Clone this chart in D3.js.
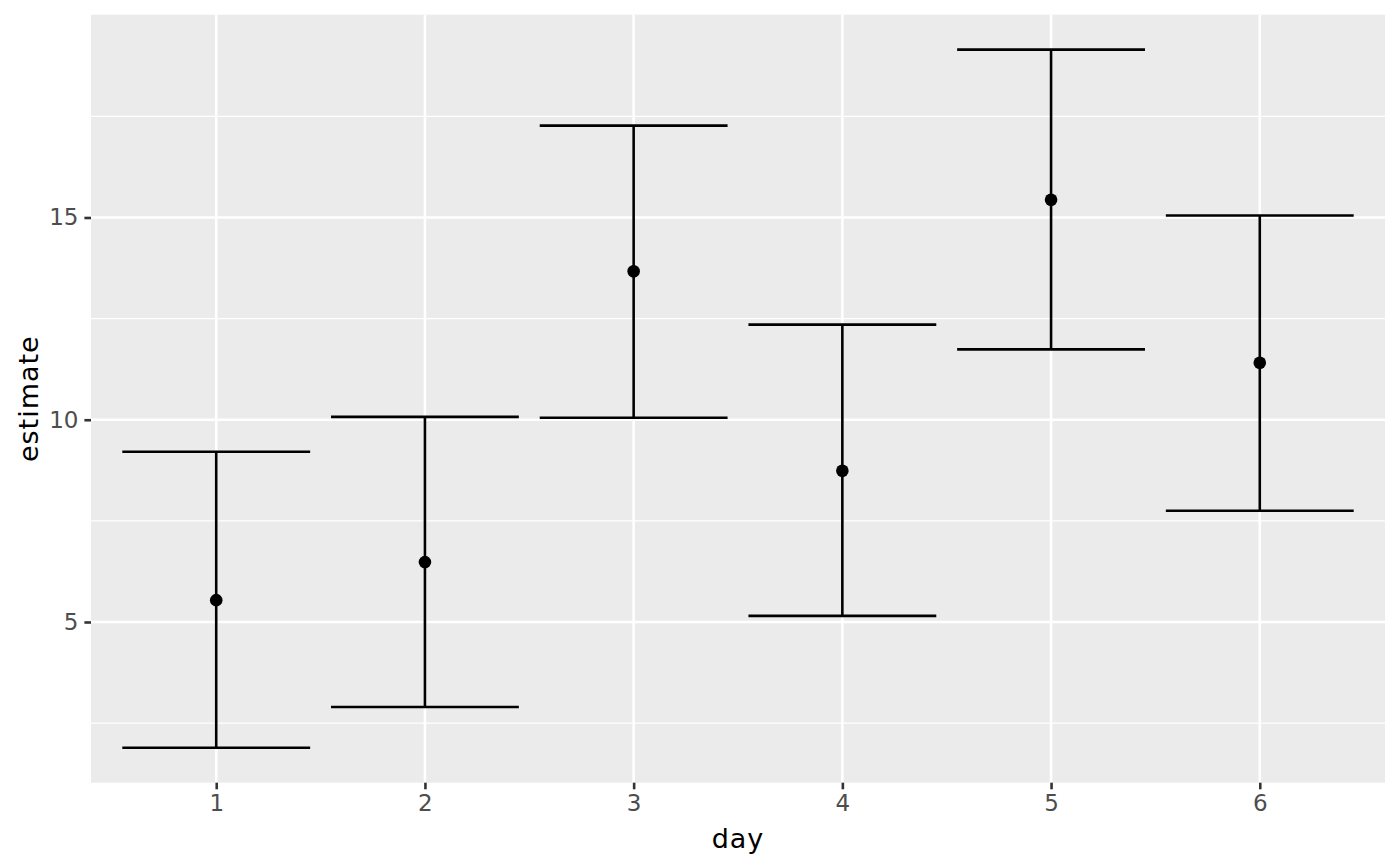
<!DOCTYPE html>
<html>
<head>
<meta charset="utf-8">
<script src="https://cdn.jsdelivr.net/npm/d3@7"></script>
<style>
  html, body { margin: 0; padding: 0; background: #ffffff; }
  svg { display: block; font-family: "DejaVu Sans", sans-serif; }
</style>
</head>
<body>
<svg id="chart" width="1400" height="866"></svg>
<script>
const days = ["1", "2", "3", "4", "5", "6"];
const estimates = [5.54, 6.48, 13.67, 8.74, 15.44, 11.41];
const lowers = [1.89, 2.90, 10.05, 5.15, 11.74, 7.75];
const uppers = [9.21, 10.07, 17.27, 12.35, 19.15, 15.05];
const yTicks = [5, 10, 15];
const yMinorTicks = [2.5, 7.5, 12.5, 17.5];
const xTitle = "day";
const yTitle = "estimate";

const data = days.map((d, i) => ({ day: d, est: estimates[i], lo: lowers[i], hi: uppers[i] }));

const svg = d3.select("#chart");
const panel = { left: 91, right: 1385, top: 14.7, bottom: 782.7 };

// discrete x scale with ggplot expansion (0.6 units each side)
const xPos = d3.scaleLinear()
  .domain([0.4, days.length + 0.6])
  .range([panel.left, panel.right]);
const x = d => xPos(days.indexOf(d) + 1);

const yMin = d3.min(lowers), yMax = d3.max(uppers);
const pad = (yMax - yMin) * 0.05;
const y = d3.scaleLinear()
  .domain([yMin - pad, yMax + pad])
  .range([panel.bottom, panel.top]);

// panel background
svg.append("rect")
  .attr("x", panel.left).attr("y", panel.top)
  .attr("width", panel.right - panel.left)
  .attr("height", panel.bottom - panel.top)
  .attr("fill", "#EBEBEB");

const grid = svg.append("g");
grid.selectAll("line.minor").data(yMinorTicks).join("line")
  .attr("class", "minor")
  .attr("x1", panel.left).attr("x2", panel.right)
  .attr("y1", d => y(d)).attr("y2", d => y(d))
  .attr("stroke", "#ffffff").attr("stroke-width", 1.3);
grid.selectAll("line.majory").data(yTicks).join("line")
  .attr("class", "majory")
  .attr("x1", panel.left).attr("x2", panel.right)
  .attr("y1", d => y(d)).attr("y2", d => y(d))
  .attr("stroke", "#ffffff").attr("stroke-width", 2.6);
grid.selectAll("line.majorx").data(days).join("line")
  .attr("class", "majorx")
  .attr("y1", panel.top).attr("y2", panel.bottom)
  .attr("x1", d => x(d)).attr("x2", d => x(d))
  .attr("stroke", "#ffffff").attr("stroke-width", 2.6);

// axes
const xAxis = d3.axisBottom(xPos)
  .tickValues(days.map((d, i) => i + 1))
  .tickFormat((d, i) => days[i])
  .tickSize(6.6).tickPadding(5.5);
const gx = svg.append("g")
  .attr("transform", `translate(0,${panel.bottom})`)
  .call(xAxis);
gx.select(".domain").remove();
gx.selectAll(".tick line").attr("stroke", "#333333").attr("stroke-width", 2.6);
gx.selectAll(".tick text").attr("fill", "#4D4D4D").attr("font-size", 23)
  .attr("font-family", "DejaVu Sans");

const yAxis = d3.axisLeft(y).tickValues(yTicks).tickSize(6.6).tickPadding(6);
const gy = svg.append("g")
  .attr("transform", `translate(${panel.left},0)`)
  .call(yAxis);
gy.select(".domain").remove();
gy.selectAll(".tick line").attr("stroke", "#333333").attr("stroke-width", 2.6);
gy.selectAll(".tick text").attr("fill", "#4D4D4D").attr("font-size", 23)
  .attr("font-family", "DejaVu Sans");

// error bars
const bw = 0.45 * (xPos(2) - xPos(1));
const eb = svg.append("g").attr("stroke", "#000000").attr("stroke-width", 2.6).attr("fill", "none");
eb.selectAll("line.v").data(data).join("line")
  .attr("class", "v")
  .attr("x1", d => x(d.day)).attr("x2", d => x(d.day))
  .attr("y1", d => y(d.lo)).attr("y2", d => y(d.hi));
eb.selectAll("line.top").data(data).join("line")
  .attr("class", "top")
  .attr("x1", d => x(d.day) - bw).attr("x2", d => x(d.day) + bw)
  .attr("y1", d => y(d.hi)).attr("y2", d => y(d.hi));
eb.selectAll("line.bot").data(data).join("line")
  .attr("class", "bot")
  .attr("x1", d => x(d.day) - bw).attr("x2", d => x(d.day) + bw)
  .attr("y1", d => y(d.lo)).attr("y2", d => y(d.lo));

// points
svg.append("g").selectAll("circle").data(data).join("circle")
  .attr("cx", d => x(d.day)).attr("cy", d => y(d.est))
  .attr("r", 6.3).attr("fill", "#000000");

// axis titles
svg.append("text")
  .attr("x", (panel.left + panel.right) / 2).attr("y", 847.5)
  .attr("text-anchor", "middle").attr("font-size", 27)
  .attr("letter-spacing", 1)
  .attr("fill", "#000000").text(xTitle);
svg.append("text")
  .attr("transform", `translate(37.5,${(panel.top + panel.bottom) / 2}) rotate(-90)`)
  .attr("text-anchor", "middle").attr("font-size", 27)
  .attr("letter-spacing", 1)
  .attr("fill", "#000000").text(yTitle);
</script>
</body>
</html>
